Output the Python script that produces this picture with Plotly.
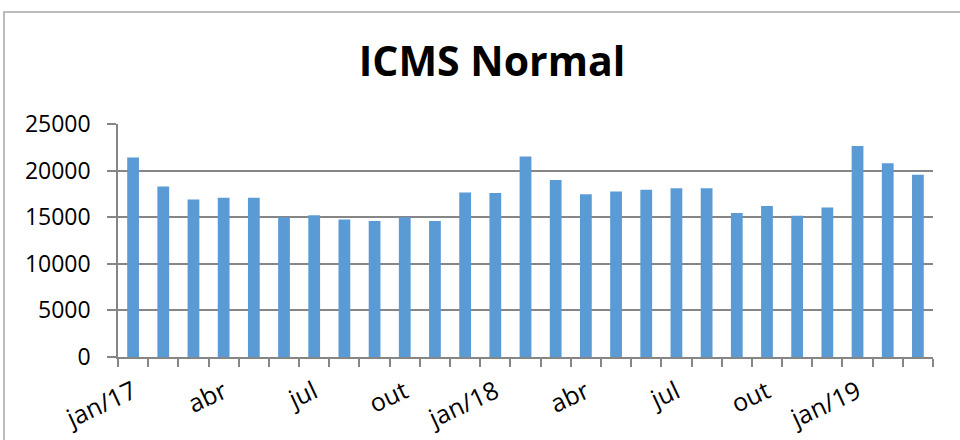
import plotly.graph_objects as go

months = ["jan/17", "fev/17", "mar/17", "abr/17", "mai/17", "jun/17", "jul/17", "ago/17", "set/17",
          "out/17", "nov/17", "dez/17", "jan/18", "fev/18", "mar/18", "abr/18", "mai/18", "jun/18",
          "jul/18", "ago/18", "set/18", "out/18", "nov/18", "dez/18", "jan/19", "fev/19", "mar/19"]
values = [21400, 18300, 16900, 17100, 17100, 15000, 15200, 14750, 14600,
          15000, 14600, 17650, 17600, 21500, 19000, 17450, 17750, 17950,
          18100, 18100, 15450, 16200, 15150, 16050, 22650, 20800, 19550]
tick_labels = ["jan/17", "", "", "abr", "", "", "jul", "", "", "out", "", "",
               "jan/18", "", "", "abr", "", "", "jul", "", "", "out", "", "",
               "jan/19", "", ""]
y_ticks = [0, 5000, 10000, 15000, 20000, 25000]
y_tick_text = ["0", "5000", "10000", "15000", "20000", "25000"]

ML, MR, MT, MB = 118, 27, 124, 83
W, H = 960, 440
pw, ph = W - ML - MR, H - MT - MB

fig = go.Figure(go.Bar(x=months, y=values, marker=dict(color="#5B9BD5", line=dict(width=0))))

fig.update_layout(
    width=W, height=H,
    margin=dict(l=ML, r=MR, t=MT, b=MB, autoexpand=False),
    paper_bgcolor="white", plot_bgcolor="white",
    bargap=0.61,
    showlegend=False,
    title=dict(text="<b>ICMS Normal</b>", x=492 / W, xref="container", xanchor="center",
               y=1 - 62 / H, yref="container", yanchor="middle",
               font=dict(family="Open Sans", size=41, color="black")),
    font=dict(family="Open Sans", size=22, color="black"),
    shapes=[dict(type="rect", xref="paper", yref="paper",
                 x0=(4 - ML) / pw, x1=(W + 10 - ML) / pw,
                 y0=-(H + 10 - (H - MB)) / ph, y1=((H - MB) - 12) / ph,
                 line=dict(color="#A6A6A6", width=1.5), fillcolor="rgba(0,0,0,0)")],
)
fig.update_xaxes(
    type="category", tickmode="array", tickvals=months, ticktext=tick_labels,
    tickson="boundaries", ticks="outside", ticklen=8, tickcolor="#868686", tickwidth=1.5,
    showline=True, linecolor="#868686", linewidth=1.5, showgrid=False,
    tickangle=-25, ticklabelstandoff=9, tickfont=dict(family="Open Sans", size=25),
)
fig.update_yaxes(
    range=[0, 25000], tickmode="array", tickvals=y_ticks, ticktext=y_tick_text,
    ticks="outside", ticklen=9, tickcolor="#868686", tickwidth=1.5,
    showline=True, linecolor="#868686", linewidth=1.5,
    showgrid=True, gridcolor="#868686", gridwidth=1.5, zeroline=False,
    ticklabelstandoff=12, tickfont=dict(family="Open Sans", size=23),
)

fig.write_html("out.html", config={"displayModeBar": False},
               post_script="document.body.style.margin='0';document.body.style.overflow='hidden';")
